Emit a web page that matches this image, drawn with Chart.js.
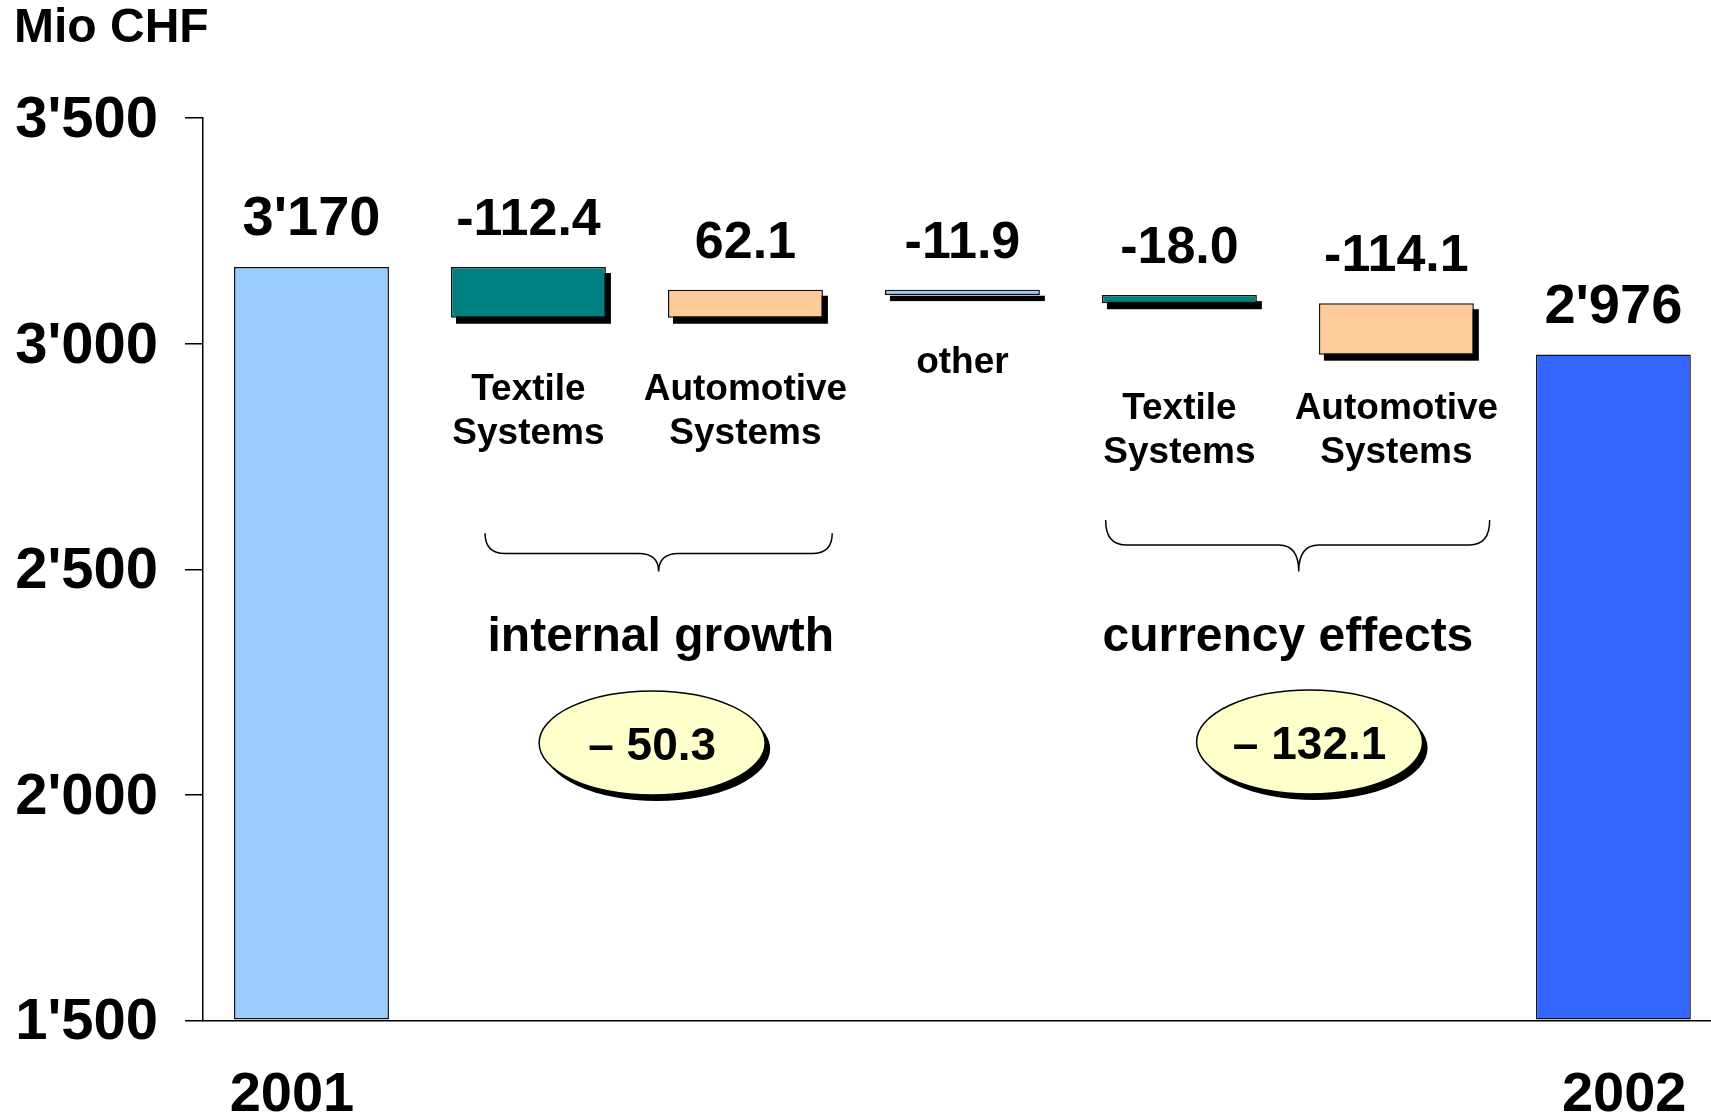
<!DOCTYPE html>
<html>
<head>
<meta charset="utf-8">
<script src="https://cdn.jsdelivr.net/npm/chart.js@4.4.1/dist/chart.umd.min.js"></script>
<style>
  html, body { margin: 0; padding: 0; background: #fff; overflow: hidden; }
  #wrap { width: 1711px; height: 1119px; }
</style>
</head>
<body>
<div id="wrap"><canvas id="waterfall"></canvas></div>
<script>
// sales bridge 2001 -> 2002, Mio CHF
var startLabel = '2001';
var endLabel = '2002';
var startTotal = 3170;
var endTotal = 2976;
var stepNames = [['Textile', 'Systems'], ['Automotive', 'Systems'], ['other'], ['Textile', 'Systems'], ['Automotive', 'Systems']];
var stepValues = [-112.4, 62.1, -11.9, -18.0, -114.1];
var groupNames = ['internal growth', 'currency effects'];
var groupMembers = [[0, 1], [3, 4]];
var yTickValues = [1500, 2000, 2500, 3000, 3500];

// colours
var totalColors = ['#99CCFF', '#3366FF'];
var stepColors = ['#008080', '#FFCC99', '#99CCFF', '#008080', '#FFCC99'];

// where the notes sit, in axis units (x = bar index, y = Mio CHF)
var stepLabelY = [2875, 2875, 2936, 2833, 2833];
var brackets = [
  {x0: 0.8, x1: 2.4, tip: 1.6, top: 2580, mid: 2535, low: 2495},
  {x0: 3.66, x1: 5.43, tip: 4.55, top: 2609, mid: 2554, low: 2495}
];
var groupTextAt = [{x: 1.61, y: 2318}, {x: 4.5, y: 2318}];
var ovalAt = [{x: 1.57, y: 2115}, {x: 4.6, y: 2117}];
var yearLabelAt = [-0.09, 6.05];

var FONT = '"Liberation Sans", Arial, sans-serif';
Chart.defaults.font.family = FONT;
Chart.defaults.color = '#000';

function swiss(v) {
  return String(Math.round(v)).replace(/\B(?=(\d{3})+(?!\d))/g, "'");
}

// waterfall: each step floats from the running total
var running = startTotal;
var stepBars = stepValues.map(function(v, i) {
  var from = running;
  running += v;
  return {x: i + 1, y: [from, running]};
});
var totalBars = [{x: 0, y: startTotal}, {x: stepValues.length + 1, y: endTotal}];

var notes = {
  id: 'notes',
  beforeDatasetsDraw: function(chart) {
    var ctx = chart.ctx;
    ctx.save();
    ctx.fillStyle = '#000';
    chart.getDatasetMeta(1).data.forEach(function(bar) {
      var top = Math.min(bar.y, bar.base);
      ctx.fillRect(bar.x - bar.width / 2 + 5, top + 6, bar.width, Math.abs(bar.y - bar.base));
    });
    ctx.restore();
  },
  afterDatasetsDraw: function(chart) {
    var ctx = chart.ctx, xs = chart.scales.x, ys = chart.scales.y;
    ctx.save();
    ctx.fillStyle = '#000';
    ctx.strokeStyle = '#000';
    ctx.textAlign = 'center';
    ctx.textBaseline = 'alphabetic';

    ctx.font = 'bold 56px ' + FONT;
    chart.getDatasetMeta(0).data.forEach(function(bar, i) {
      ctx.fillText(swiss(i === 0 ? startTotal : endTotal), bar.x, bar.y - 32);
    });

    chart.getDatasetMeta(1).data.forEach(function(bar, i) {
      var top = Math.min(bar.y, bar.base);
      ctx.font = 'bold 52px ' + FONT;
      ctx.fillText(stepValues[i].toFixed(1), bar.x, top - 32);
      ctx.font = 'bold 37px ' + FONT;
      var y0 = ys.getPixelForValue(stepLabelY[i]);
      stepNames[i].forEach(function(line, j) {
        ctx.fillText(line, bar.x, y0 + j * 44);
      });
    });

    // curly brackets
    ctx.lineWidth = 1.5;
    brackets.forEach(function(b) {
      var x0 = xs.getPixelForValue(b.x0), x1 = xs.getPixelForValue(b.x1), xt = xs.getPixelForValue(b.tip);
      var yt = ys.getPixelForValue(b.top), ym = ys.getPixelForValue(b.mid), yl = ys.getPixelForValue(b.low);
      var r = 20;
      ctx.beginPath();
      ctx.moveTo(x0, yt);
      ctx.quadraticCurveTo(x0, ym, x0 + r, ym);
      ctx.lineTo(xt - r, ym);
      ctx.quadraticCurveTo(xt, ym, xt, yl);
      ctx.quadraticCurveTo(xt, ym, xt + r, ym);
      ctx.lineTo(x1 - r, ym);
      ctx.quadraticCurveTo(x1, ym, x1, yt);
      ctx.stroke();
    });

    ctx.font = 'bold 48px ' + FONT;
    groupNames.forEach(function(name, g) {
      ctx.fillText(name, xs.getPixelForValue(groupTextAt[g].x), ys.getPixelForValue(groupTextAt[g].y));
    });

    // ovals with the group sums
    groupMembers.forEach(function(members, g) {
      var sum = members.reduce(function(s, k) { return s + stepValues[k]; }, 0);
      var cx = xs.getPixelForValue(ovalAt[g].x), cy = ys.getPixelForValue(ovalAt[g].y);
      ctx.fillStyle = '#000';
      ctx.beginPath();
      ctx.ellipse(cx + 5, cy + 6, 113, 52, 0, 0, Math.PI * 2);
      ctx.fill();
      ctx.fillStyle = '#FFFFCC';
      ctx.beginPath();
      ctx.ellipse(cx, cy, 113, 52, 0, 0, Math.PI * 2);
      ctx.fill();
      ctx.stroke();
      ctx.fillStyle = '#000';
      ctx.font = 'bold 46px ' + FONT;
      ctx.textBaseline = 'middle';
      var txt = (sum < 0 ? '\u2013 ' : '') + Math.abs(sum).toFixed(1);
      ctx.fillText(txt, cx, cy + 4);
      ctx.textBaseline = 'alphabetic';
    });
    ctx.restore();
  }
};

var ctx = document.getElementById('waterfall').getContext('2d');
var chart = new Chart(ctx, {
  type: 'bar',
  data: {
    datasets: [
      { data: totalBars, backgroundColor: totalColors, base: yTickValues[0] },
      { data: stepBars, backgroundColor: stepColors }
    ]
  },
  options: {
    responsive: true,
    maintainAspectRatio: false,
    animation: false,
    layout: { padding: { left: 14, top: 0, right: 0, bottom: 0 } },
    datasets: {
      bar: {
        grouped: false,
        barPercentage: 0.714,
        categoryPercentage: 1,
        borderColor: '#111',
        borderWidth: 1.5,
        borderSkipped: false
      }
    },
    plugins: {
      legend: { display: false },
      tooltip: { enabled: false },
      title: {
        display: true,
        text: 'Mio CHF',
        align: 'start',
        color: '#000',
        font: { size: 48, weight: 'bold' },
        padding: { top: 0, bottom: 60.6 }
      }
    },
    scales: {
      x: {
        type: 'linear',
        offset: false,
        min: -0.5,
        max: 6.45,
        grid: { display: false, drawTicks: false },
        border: { display: true, color: '#000', width: 1.5 },
        afterBuildTicks: function(s) { s.ticks = yearLabelAt.map(function(v) { return {value: v}; }); },
        ticks: {
          callback: function(v, i) { return i === 0 ? startLabel : endLabel; },
          padding: 42,
          maxRotation: 0,
          autoSkip: false,
          color: '#000',
          font: { size: 56, weight: 'bold' }
        },
        afterFit: function(s) { s.height = 98.7; s.paddingLeft = 0; s.paddingRight = 0; }
      },
      y: {
        min: yTickValues[0],
        max: yTickValues[yTickValues.length - 1],
        afterBuildTicks: function(s) { s.ticks = yTickValues.map(function(v) { return {value: v}; }); },
        ticks: {
          callback: function(v) { return swiss(v); },
          padding: 27,
          labelOffset: 3,
          color: '#000',
          font: { size: 58, weight: 'bold' }
        },
        grid: { drawOnChartArea: false, drawTicks: true, tickLength: 18, color: '#000', lineWidth: 1.5 },
        border: { display: true, color: '#000', width: 1.5 },
        afterFit: function(s) { s.width = 189; }
      }
    }
  },
  plugins: [notes]
});
</script>
</body>
</html>
